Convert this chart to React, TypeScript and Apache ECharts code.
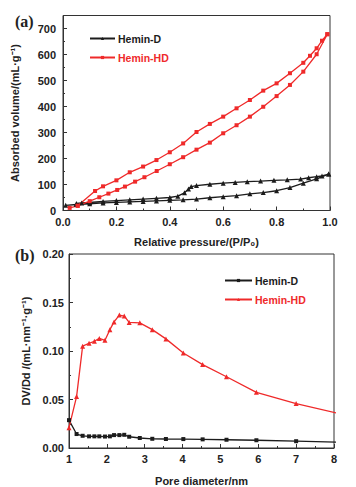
import React, { useEffect, useRef } from "react";
import * as echarts from "echarts";

// ---- (a) N2 isotherms ----
const dAdsP = [0.01, 0.05, 0.1, 0.15, 0.2, 0.25, 0.3, 0.35, 0.4, 0.45, 0.5, 0.55, 0.6, 0.65, 0.7, 0.75, 0.8, 0.85, 0.9, 0.95, 0.995];
const dAdsV = [20, 23, 26, 29, 31, 33, 35, 37, 39, 41, 44, 49, 53, 57, 64, 69, 76, 88, 105, 122, 140];
const dDesP = [0.995, 0.97, 0.95, 0.92, 0.89, 0.84, 0.79, 0.74, 0.69, 0.645, 0.6, 0.55, 0.5, 0.48, 0.47, 0.455, 0.43, 0.4, 0.35, 0.3, 0.25, 0.2, 0.15, 0.1, 0.07, 0.05];
const dDesV = [140, 133, 130, 126, 121, 118, 116, 113, 111, 108, 105, 101, 96, 92, 83, 68, 55, 50, 47, 44, 41, 38, 35, 31, 29, 27];

const hdAdsP = [0.025, 0.055, 0.1, 0.136, 0.17, 0.203, 0.232, 0.27, 0.305, 0.351, 0.4, 0.45, 0.5, 0.55, 0.6, 0.65, 0.7, 0.75, 0.8, 0.85, 0.9, 0.95, 0.99];
const hdAdsV = [10, 18, 36, 51, 65, 79, 92, 111, 128, 152, 178, 205, 234, 261, 297, 328, 361, 399, 440, 483, 534, 601, 678];
const hdDesP = [0.99, 0.97, 0.95, 0.925, 0.9, 0.85, 0.8, 0.75, 0.7, 0.65, 0.6, 0.55, 0.5, 0.45, 0.4, 0.35, 0.3, 0.25, 0.2, 0.15, 0.12, 0.055];
const hdDesV = [678, 653, 624, 595, 568, 528, 489, 461, 425, 393, 361, 333, 302, 258, 224, 194, 169, 147, 116, 93, 75, 18];

// ---- (b) pore size distribution ----
const poreD = [1.0, 1.2, 1.36, 1.53, 1.67, 1.8, 1.95, 2.08, 2.19, 2.33, 2.46, 2.59, 2.87, 3.2, 3.56, 4.02, 4.53, 5.16, 5.95, 7.0, 8.45];
const psdD = [0.0287, 0.0144, 0.0126, 0.012, 0.012, 0.012, 0.0118, 0.012, 0.0133, 0.0133, 0.0136, 0.0116, 0.0103, 0.0095, 0.0093, 0.0092, 0.0089, 0.0085, 0.008, 0.007, 0.0056];
const psdHD = [0.021, 0.053, 0.105, 0.108, 0.11, 0.113, 0.111, 0.122, 0.13, 0.137, 0.136, 0.1295, 0.129, 0.122, 0.1125, 0.098, 0.086, 0.0735, 0.0574, 0.0458, 0.0325];

const BLACK = "#1c1c1c";
const RED = "#ef2a2a";
const FONT = "Liberation Sans, Arial, sans-serif";

const zip = (xs: number[], ys: number[]) => xs.map((x, i) => [x, ys[i]]);

export default function App() {
  const ref = useRef<HTMLDivElement>(null);
  useEffect(() => {
    if (!ref.current) return;
    const chart = echarts.init(ref.current, null, { renderer: "svg" });
    const axisCommon = {
      axisLine: { show: true, onZero: false, lineStyle: { color: "#333", width: 1 } },
      axisTick: { show: true, inside: true, length: 4, lineStyle: { color: "#333" } },
      minorTick: { show: true, splitNumber: 2, length: 2, lineStyle: { color: "#333" } },
      splitLine: { show: false },
      axisLabel: { color: "#222", fontSize: 11, fontWeight: "bold", fontFamily: FONT },
      nameTextStyle: { color: "#222", fontSize: 11, fontWeight: "bold", fontFamily: FONT },
    };
    const lineCommon = { type: "line", lineStyle: { width: 1.3 }, symbolSize: 4.5 };
    chart.setOption({
      animation: false,
      grid: [
        { left: 63, top: 15.5, width: 267, height: 195, show: true, borderColor: "#333", borderWidth: 1 },
        { left: 69, top: 254, width: 265, height: 195, show: true, borderColor: "#333", borderWidth: 1 },
      ],
      xAxis: [
        {
          ...axisCommon, type: "value", gridIndex: 0, min: 0, max: 1, interval: 0.2,
          axisLabel: { ...axisCommon.axisLabel, margin: 6, formatter: (v: number) => v.toFixed(1) },
          name: "Relative pressure/(P/P₀)", nameLocation: "middle", nameGap: 26,
        },
        {
          ...axisCommon, type: "value", gridIndex: 1, min: 1, max: 8, interval: 1,
          axisLabel: { ...axisCommon.axisLabel, margin: 5 },
          name: "Pore diameter/nm", nameLocation: "middle", nameGap: 27,
        },
      ],
      yAxis: [
        {
          ...axisCommon, type: "value", gridIndex: 0, min: 0, max: 750, interval: 100,
          axisLabel: { ...axisCommon.axisLabel, margin: 7, showMaxLabel: false },
          name: "Absorbed volume/(mL·g⁻¹)", nameLocation: "middle", nameGap: 43,
        },
        {
          ...axisCommon, type: "value", gridIndex: 1, min: 0, max: 0.2, interval: 0.05,
          axisLabel: { ...axisCommon.axisLabel, margin: 5, formatter: (v: number) => v.toFixed(2) },
          name: "DV/Dd /(mL·nm⁻¹·g⁻¹)", nameLocation: "middle", nameGap: 35,
        },
      ],
      legend: [
        {
          orient: "vertical", left: 84, top: 28, itemWidth: 25, itemHeight: 4, itemGap: 8,
          textStyle: { fontSize: 10.5, fontWeight: "bold", fontFamily: FONT, color: BLACK, padding: [0, 0, 0, -2] },
          data: [
            { name: "Hemin-D", textStyle: { color: BLACK } },
            { name: "Hemin-HD", textStyle: { color: RED } },
          ],
        },
        {
          orient: "vertical", left: 219, top: 270, itemWidth: 27, itemHeight: 4, itemGap: 8,
          formatter: (n: string) => n.replace(" (b)", ""),
          textStyle: { fontSize: 10.5, fontWeight: "bold", fontFamily: FONT, color: BLACK, padding: [0, 0, 0, -2] },
          data: [
            { name: "Hemin-D (b)", textStyle: { color: BLACK } },
            { name: "Hemin-HD (b)", textStyle: { color: RED } },
          ],
        },
      ],
      graphic: [
        { type: "text", left: 15, top: 13, style: { text: "(a)", font: "bold 16px 'Liberation Serif', serif", fill: "#222" } },
        { type: "text", left: 15, top: 247, style: { text: "(b)", font: "bold 16px 'Liberation Serif', serif", fill: "#222" } },
      ],
      series: [
        {
          ...lineCommon, name: "Hemin-D", xAxisIndex: 0, yAxisIndex: 0, symbol: "triangle", symbolSize: 5,
          color: BLACK, data: [...zip(dAdsP, dAdsV), ...zip(dDesP, dDesV)],
        },
        {
          ...lineCommon, name: "Hemin-HD", xAxisIndex: 0, yAxisIndex: 0, symbol: "rect", symbolSize: 4,
          color: RED, data: [...zip(hdAdsP, hdAdsV), ...zip(hdDesP, hdDesV)],
        },
        {
          ...lineCommon, name: "Hemin-D (b)", xAxisIndex: 1, yAxisIndex: 1, symbol: "rect", symbolSize: 4,
          color: BLACK, clip: true, data: zip(poreD, psdD),
        },
        {
          ...lineCommon, name: "Hemin-HD (b)", xAxisIndex: 1, yAxisIndex: 1, symbol: "triangle", symbolSize: 5,
          color: RED, clip: true, data: zip(poreD, psdHD),
        },
      ],
    });
    return () => chart.dispose();
  }, []);
  return <div ref={ref} style={{ position: "fixed", left: 0, top: 0, width: 356, height: 487, background: "#fff" }} />;
}
